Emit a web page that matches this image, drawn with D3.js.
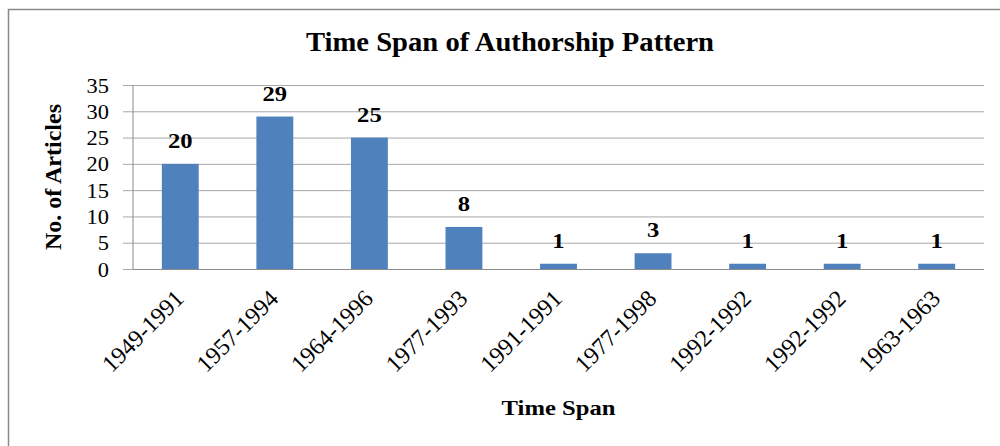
<!DOCTYPE html>
<html>
<head>
<meta charset="utf-8">
<script src="https://cdn.jsdelivr.net/npm/d3@7"></script>
<style>
  body { margin: 0; background: #fff; }
</style>
</head>
<body>
<div id="chart"></div>
<script>
var spans = ['1949-1991', '1957-1994', '1964-1996', '1977-1993', '1991-1991',
             '1977-1998', '1992-1992', '1992-1992', '1963-1963'];
var articles = [20, 29, 25, 8, 1, 3, 1, 1, 1];
var yTicks = [0, 5, 10, 15, 20, 25, 30, 35];

var svgW = 1000, svgH = 446;
var plot = {left: 133, right: 984, top: 85, bottom: 269};
var serif = '"Liberation Serif", "Times New Roman", serif';
// text in the source picture looks a bit wider than it is tall
var sx = 1.12;

var svg = d3.select('#chart').append('svg')
  .attr('width', svgW)
  .attr('height', svgH)
  .attr('font-family', serif);

// chart frame, cut off on the right and bottom
svg.append('rect')
  .attr('x', 8.5).attr('y', 9.5)
  .attr('width', 1010).attr('height', 460)
  .attr('fill', 'none')
  .attr('stroke', '#8a8a8a')
  .attr('stroke-width', 1.5);

var x = d3.scaleBand()
  .domain(d3.range(spans.length))
  .range([plot.left, plot.right])
  .padding(0);

var y = d3.scaleLinear()
  .domain([0, 35])
  .range([plot.bottom, plot.top]);

var barW = x.bandwidth() * 0.39;

// gridlines + y ticks
var yAxis = d3.axisLeft(y)
  .tickValues(yTicks)
  .tickSize(-(plot.right - plot.left + 10))
  .tickPadding(14)
  .tickFormat(d3.format('d'));

var gy = svg.append('g')
  .attr('transform', 'translate(' + (plot.left - 10) + ',0)')
  .call(yAxis)
  .attr('font-family', serif)
  .attr('font-size', 20);
gy.select('.domain').remove();
gy.selectAll('.tick line')
  .attr('x1', 0)
  .attr('x2', plot.right - plot.left + 10)
  .attr('stroke', '#a8a8a8')
  .attr('stroke-width', 1);
gy.selectAll('.tick text')
  .attr('x', null)
  .attr('dy', null)
  .attr('fill', '#000')
  .attr('text-anchor', 'end')
  .attr('transform', 'translate(-14,7) scale(' + sx + ',1)');

// y axis line
svg.append('line')
  .attr('x1', plot.left).attr('x2', plot.left)
  .attr('y1', plot.top).attr('y2', plot.bottom)
  .attr('stroke', '#8a8a8a');

// bars
svg.append('g').selectAll('rect')
  .data(articles)
  .enter().append('rect')
    .attr('x', function(d, i) { return x(i) + (x.bandwidth() - barW) / 2; })
    .attr('y', function(d) { return y(d); })
    .attr('width', barW)
    .attr('height', function(d) { return y(0) - y(d); })
    .attr('fill', '#4f81bd');

// x axis line over the bar bottoms
svg.append('line')
  .attr('x1', plot.left).attr('x2', plot.right)
  .attr('y1', plot.bottom + 0.5).attr('y2', plot.bottom + 0.5)
  .attr('stroke', '#8a8a8a');

// value labels
svg.append('g').selectAll('text')
  .data(articles)
  .enter().append('text')
    .attr('font-family', serif)
    .attr('text-anchor', 'middle')
    .attr('font-weight', 'bold')
    .attr('font-size', 22)
    .attr('transform', function(d, i) {
      return 'translate(' + (x(i) + x.bandwidth() / 2) + ',' + (y(d) - 16) + ') scale(' + sx + ',1)';
    })
    .text(function(d) { return d; });

// category labels
svg.append('g').selectAll('text')
  .data(spans)
  .enter().append('text')
    .attr('font-family', serif)
    .attr('text-anchor', 'end')
    .attr('font-size', 24)
    .attr('transform', function(d, i) {
      return 'translate(' + (x(i) + x.bandwidth() / 2 + 5) + ',300) rotate(-45)';
    })
    .text(function(d) { return d; });

// titles
svg.append('text')
  .attr('font-family', serif)
  .attr('text-anchor', 'middle')
  .attr('font-weight', 'bold')
  .attr('font-size', 27)
  .attr('transform', 'translate(510,51) scale(1.06,1)')
  .text('Time Span of Authorship Pattern');

svg.append('text')
  .attr('font-family', serif)
  .attr('text-anchor', 'middle')
  .attr('font-weight', 'bold')
  .attr('font-size', 22)
  .attr('transform', 'translate(' + ((plot.left + plot.right) / 2) + ',415) scale(' + sx + ',1)')
  .text('Time Span');

svg.append('text')
  .attr('font-family', serif)
  .attr('text-anchor', 'middle')
  .attr('font-weight', 'bold')
  .attr('font-size', 24)
  .attr('transform', 'translate(61,' + ((plot.top + plot.bottom) / 2) + ') rotate(-90)')
  .text('No. of Articles');
</script>
</body>
</html>
